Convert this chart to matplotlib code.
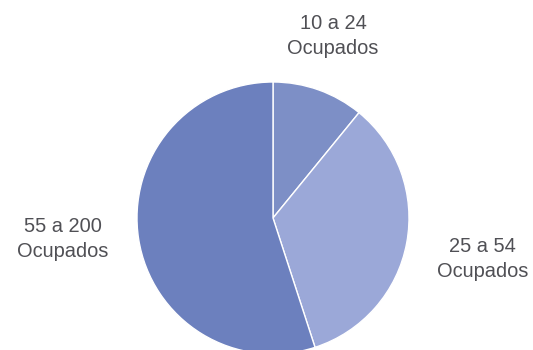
import matplotlib
matplotlib.use("Agg")
import matplotlib.pyplot as plt

# ---------- data ----------
labels = ["10 a 24\nOcupados", "25 a 54\nOcupados", "55 a 200\nOcupados"]
shares = [10.9, 34.1, 55.0]
colors = ["#7d8fc6", "#9ba8d8", "#6c80be"]

# label anchor points (figure fraction)
label_pos = [(0.625, 0.897), (0.905, 0.26), (0.118, 0.317)]

plt.rcParams["font.family"] = ["Liberation Sans", "DejaVu Sans"]

W, H = 533, 350
fig = plt.figure(figsize=(W / 100, H / 100), dpi=100)
cx, cy, r = 273, 218, 136
ax = fig.add_axes([(cx - r) / W, (H - cy - r) / H, 2 * r / W, 2 * r / H])

ax.pie(shares, colors=colors, startangle=90, counterclock=False, radius=1,
       wedgeprops=dict(edgecolor="white", linewidth=1.0))
ax.set_xlim(-1, 1)
ax.set_ylim(-1, 1)
ax.set_aspect("equal")
ax.axis("off")

for lab, (x, y) in zip(labels, label_pos):
    fig.text(x, y, lab, ha="center", va="center", fontsize=14.4,
             color="#505055", linespacing=1.35)

fig.savefig("out.png", dpi=100)
